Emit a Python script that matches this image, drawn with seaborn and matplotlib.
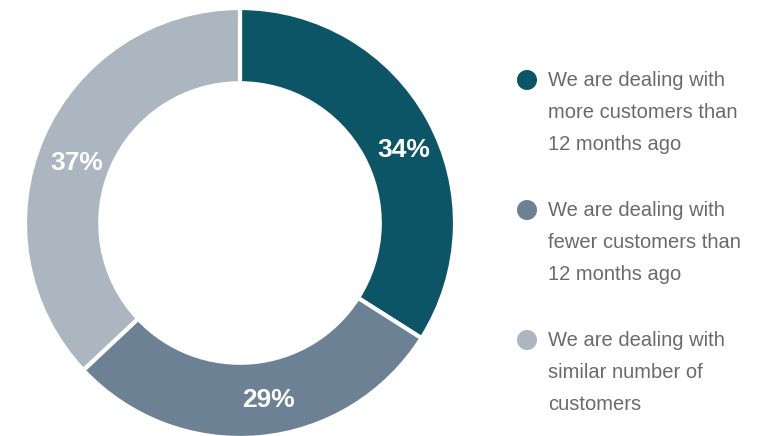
import matplotlib
matplotlib.use("Agg")
import matplotlib.pyplot as plt
import numpy as np
import seaborn as sns

categories = [
    "We are dealing with\nmore customers than\n12 months ago",
    "We are dealing with\nfewer customers than\n12 months ago",
    "We are dealing with\nsimilar number of\ncustomers",
]
shares = [34, 29, 37]
colors = ["#0b5566", "#6c8294", "#abb6c1"]

sns.set_theme(style="white")
plt.rcParams["font.family"] = ["Liberation Sans", "DejaVu Sans"]

W, H = 762, 436
fig = plt.figure(figsize=(W / 100, H / 100), dpi=100)
fig.patch.set_facecolor("white")

cx, cy, r = 240, 223, 215
ax = fig.add_axes([(cx - r) / W, (H - cy - r) / H, 2 * r / W, 2 * r / H])

ring = 0.35
wedges, _ = ax.pie(
    shares,
    colors=colors,
    startangle=90,
    counterclock=False,
    radius=1.0,
    wedgeprops=dict(width=ring, edgecolor="white", linewidth=3),
)
ax.set_xlim(-1, 1)
ax.set_ylim(-1, 1)
ax.set_aspect("equal")
ax.axis("off")

# percentage labels sit in the ring near each wedge centre, with small nudges
nudge_deg = [-4.2, 4.0, 2.6]
label_r = [0.84, 0.825, 0.812]
angle = 90.0
for share, dn, rr in zip(shares, nudge_deg, label_r):
    mid = angle - share / 100 * 360 / 2 + dn
    angle -= share / 100 * 360
    ax.text(rr * np.cos(np.radians(mid)), rr * np.sin(np.radians(mid)) - 0.01,
            f"{share}%", ha="center", va="center", color="white",
            fontsize=19, fontweight="bold")

# legend: pixel-space overlay with round markers and wrapped labels
lg = fig.add_axes([0, 0, 1, 1], facecolor="none")
lg.set_xlim(0, W)
lg.set_ylim(H, 0)
lg.axis("off")
tops = [80, 210, 340]
lg.scatter([527] * 3, tops, s=20 ** 2 * 0.52, c=colors, marker="o", linewidths=0)
for lab, y in zip(categories, tops):
    for i, line in enumerate(lab.split("\n")):
        lg.text(548, y + i * 32, line, ha="left", va="center",
                fontsize=14.5, color="#6a6a6a")

fig.savefig("out.png", dpi=100, facecolor="white")
